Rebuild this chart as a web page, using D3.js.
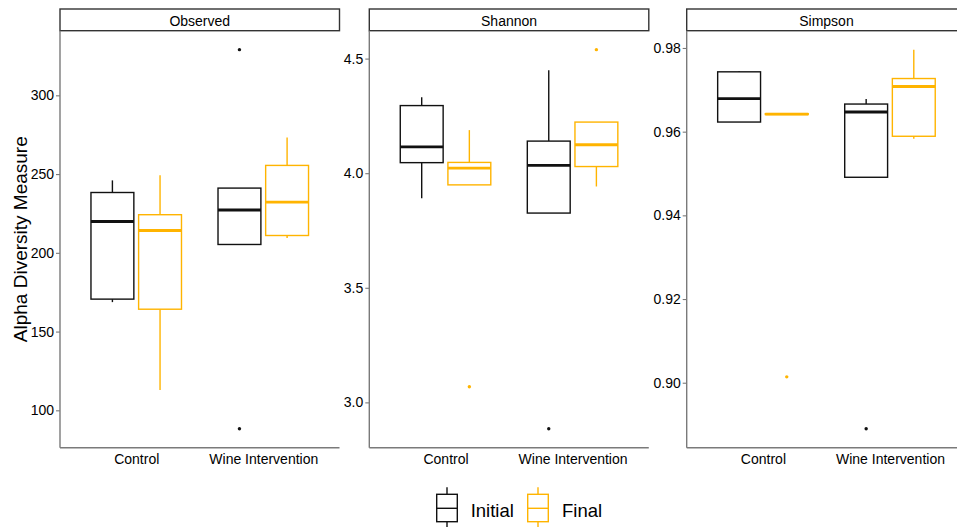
<!DOCTYPE html>
<html>
<head>
<meta charset="utf-8">
<script src="https://cdn.jsdelivr.net/npm/d3@7"></script>
<style>
  html, body { margin: 0; padding: 0; background: #fff; }
  svg { display: block; font-family: "Liberation Sans", Arial, sans-serif; }
</style>
</head>
<body>
<svg id="chart" width="957" height="527"></svg>
<script>
// Facets, groups and timepoints
const metrics = ["Observed", "Shannon", "Simpson"];
const treatments = ["Control", "Wine Intervention"];
const timepoints = ["Initial", "Final"];

// Box order: Control/Initial, Control/Final, Wine/Initial, Wine/Final
// Each row: [lower whisker, Q1, median, Q3, upper whisker]
const observedStats = [
  [168.7, 170.6, 219.9, 238.3, 246.0],
  [112.9, 164.2, 214.2, 224.2, 249.2],
  [205.3, 205.3, 227.2, 241.1, 241.1],
  [209.4, 211.0, 232.2, 255.5, 273.3]
];
const observedOutliers = [[], [], [88.3, 329.0], []];
const observedTicks = [100, 150, 200, 250, 300];

const shannonStats = [
  [3.891, 4.046, 4.115, 4.295, 4.331],
  [3.949, 3.949, 4.022, 4.047, 4.188],
  [3.826, 3.826, 4.034, 4.140, 4.449],
  [3.942, 4.029, 4.124, 4.223, 4.223]
];
const shannonOutliers = [[], [3.068], [2.885], [4.539]];
const shannonTicks = [3.0, 3.5, 4.0, 4.5];

const simpsonStats = [
  [0.9623, 0.9623, 0.9679, 0.9743, 0.9745],
  [0.9641, 0.9641, 0.9642, 0.9643, 0.9644],
  [0.9491, 0.9491, 0.9647, 0.9666, 0.9678],
  [0.9583, 0.9589, 0.9708, 0.9727, 0.9796]
];
const simpsonOutliers = [[], [0.9014], [0.8890], []];
const simpsonTicks = [0.90, 0.92, 0.94, 0.96, 0.98];

const panels = [
  { name: metrics[0], stats: observedStats, outliers: observedOutliers, ticks: observedTicks, fmt: d3.format("d"), left: 60 },
  { name: metrics[1], stats: shannonStats, outliers: shannonOutliers, ticks: shannonTicks, fmt: d3.format(".1f"), left: 369.3 },
  { name: metrics[2], stats: simpsonStats, outliers: simpsonOutliers, ticks: simpsonTicks, fmt: d3.format(".2f"), left: 686.7 }
];

const colour = d3.scaleOrdinal().domain(timepoints).range(["#111111", "#FFB400"]);

const panelW = 279.5;
const panelTop = 30.7, panelBottom = 447.7;
const stripTop = 9;
const axisCol = "#7a7a7a";
const stripCol = "#333";

const svg = d3.select("#chart");

// y-axis title
svg.append("text")
  .attr("transform", `translate(27,${(panelTop + panelBottom) / 2}) rotate(-90)`)
  .attr("text-anchor", "middle")
  .attr("font-size", 19)
  .attr("fill", "#000")
  .text("Alpha Diversity Measure");

panels.forEach(p => {
  const g = svg.append("g").attr("transform", `translate(${p.left},0)`);

  // free y scale per facet, with 5% padding around the data range
  const allVals = p.stats.flat().concat(p.outliers.flat());
  const lo = d3.min(allVals), hi = d3.max(allVals);
  const pad = (hi - lo) * 0.05;
  const y = d3.scaleLinear().domain([lo - pad, hi + pad]).range([panelBottom, panelTop]);

  const x = d3.scalePoint().domain(treatments).range([0, panelW]).padding(0.6);
  const step = x.step();
  const dodge = d3.scaleBand().domain(timepoints).range([-0.375 * step, 0.375 * step]);
  const boxW = dodge.bandwidth() * 0.9;

  // strip
  g.append("rect")
    .attr("x", 0).attr("y", stripTop)
    .attr("width", panelW).attr("height", panelTop - stripTop)
    .attr("fill", "#fff").attr("stroke", stripCol).attr("stroke-width", 1.4);
  g.append("text")
    .attr("x", panelW / 2).attr("y", 26)
    .attr("text-anchor", "middle")
    .attr("font-size", 14)
    .attr("fill", "#000")
    .text(p.name);

  // boxes
  const boxes = [];
  treatments.forEach((t, ti) => {
    timepoints.forEach((tp, pi) => {
      const k = ti * 2 + pi;
      boxes.push({ t, tp, s: p.stats[k], out: p.outliers[k] });
    });
  });

  const bg = g.selectAll("g.box").data(boxes).enter().append("g").attr("class", "box");
  bg.each(function(d) {
    const sel = d3.select(this);
    const cx = x(d.t) + dodge(d.tp) + dodge.bandwidth() / 2;
    const c = colour(d.tp);
    const [lw, q1, med, q3, uw] = d.s;
    sel.append("line")
      .attr("x1", cx).attr("x2", cx).attr("y1", y(q3)).attr("y2", y(uw))
      .attr("stroke", c).attr("stroke-width", 1.4);
    sel.append("line")
      .attr("x1", cx).attr("x2", cx).attr("y1", y(q1)).attr("y2", y(lw))
      .attr("stroke", c).attr("stroke-width", 1.4);
    sel.append("rect")
      .attr("x", cx - boxW / 2).attr("width", boxW)
      .attr("y", y(q3)).attr("height", Math.max(0, y(q1) - y(q3)))
      .attr("fill", "#fff").attr("stroke", c).attr("stroke-width", 1.4);
    sel.append("line")
      .attr("x1", cx - boxW / 2).attr("x2", cx + boxW / 2)
      .attr("y1", y(med)).attr("y2", y(med))
      .attr("stroke", c).attr("stroke-width", 2.9);
    sel.selectAll("circle").data(d.out).enter().append("circle")
      .attr("cx", cx).attr("cy", v => y(v)).attr("r", 1.7)
      .attr("fill", c);
  });

  // axes
  g.append("line")
    .attr("x1", 0).attr("x2", 0).attr("y1", panelTop).attr("y2", panelBottom)
    .attr("stroke", axisCol).attr("stroke-width", 1.4);
  g.append("line")
    .attr("x1", 0).attr("x2", panelW).attr("y1", panelBottom).attr("y2", panelBottom)
    .attr("stroke", axisCol).attr("stroke-width", 1.4);

  const yAxis = g.append("g")
    .call(d3.axisLeft(y).tickValues(p.ticks).tickFormat(p.fmt).tickSize(4).tickPadding(2));
  yAxis.select(".domain").remove();
  yAxis.selectAll(".tick line").attr("stroke", axisCol).attr("stroke-width", 1.1);
  yAxis.selectAll(".tick text").attr("font-size", 14).attr("fill", "#000")
    .attr("font-family", "Liberation Sans, Arial, sans-serif");

  const xAxis = g.append("g").attr("transform", `translate(0,${panelBottom})`)
    .call(d3.axisBottom(x).tickSize(0).tickPadding(6));
  xAxis.select(".domain").remove();
  xAxis.selectAll(".tick text").attr("font-size", 14).attr("fill", "#000")
    .attr("font-family", "Liberation Sans, Arial, sans-serif");
});

// legend
const legendItems = [
  { tp: timepoints[0], x: 436.7, tx: 470.7 },
  { tp: timepoints[1], x: 527.7, tx: 562 }
];
const lg = svg.append("g");
legendItems.forEach(it => {
  const c = colour(it.tp);
  const cx = it.x + 10.3;
  lg.append("line").attr("x1", cx).attr("x2", cx).attr("y1", 487.3).attr("y2", 527)
    .attr("stroke", c).attr("stroke-width", 1.4);
  lg.append("rect").attr("x", it.x).attr("y", 494.3).attr("width", 20.6).attr("height", 27.4)
    .attr("fill", "#fff").attr("stroke", c).attr("stroke-width", 1.4);
  lg.append("line").attr("x1", it.x).attr("x2", it.x + 20.6).attr("y1", 508.3).attr("y2", 508.3)
    .attr("stroke", c).attr("stroke-width", 1.4);
  lg.append("text").attr("x", it.tx).attr("y", 517.3)
    .attr("font-size", 18.5).attr("fill", "#000").text(it.tp);
});
</script>
</body>
</html>
